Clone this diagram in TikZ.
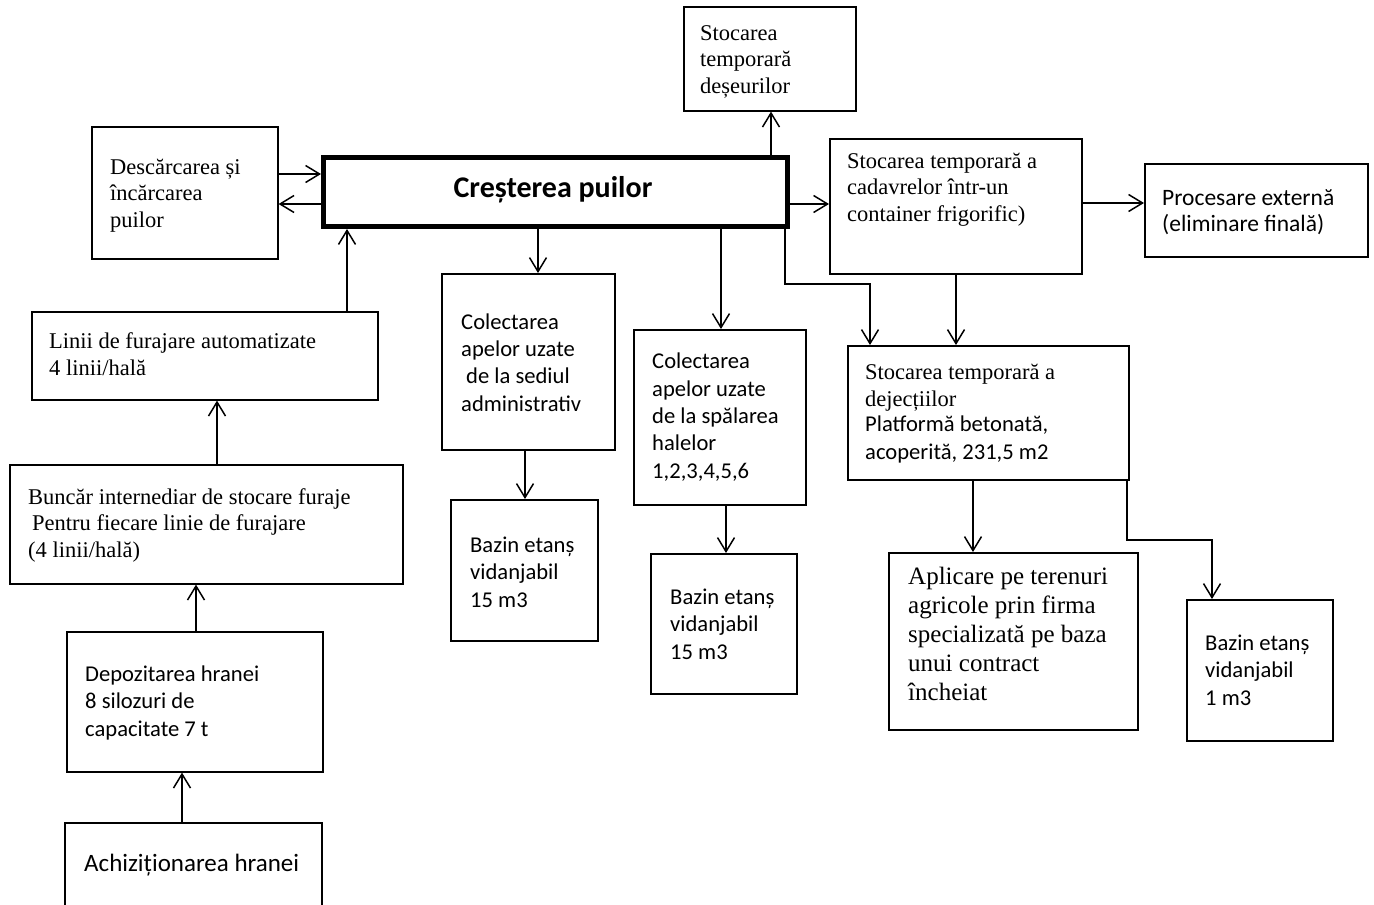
\documentclass[tikz,border=0pt]{standalone}
\usepackage{fontspec}
\setmainfont{Liberation Serif}
\newfontfamily\calib{Carlito}
\usetikzlibrary{arrows.meta}
\begin{document}
\begin{tikzpicture}[x=1pt,y=-1pt,
  box/.style={draw,line width=1.6pt,inner sep=0pt,anchor=north west},
  tm/.style={font=\fontsize{22.5}{26.5}\selectfont,align=left,anchor=base west,inner sep=0pt},
  tmbig/.style={font=\fontsize{25}{28.8}\selectfont,align=left,anchor=base west,inner sep=0pt},
  cb/.style={font=\calib\fontsize{22.6}{27.3}\selectfont,align=left,anchor=base west,inner sep=0pt},
  arr/.style={-{Straight Barb[length=14pt,width=17pt,line width=1.5pt]},line width=1.5pt}]
\clip (0,0) rectangle (1374,905);
\fill[white] (0,0) rectangle (1374,905);
% boxes
\node[box,minimum width=172pt,minimum height=104pt] (deseu) at (683,6) {};
\node[box,line width=5pt,minimum width=464pt,minimum height=69pt] (main) at (321,155) {};
\node[box,minimum width=186pt,minimum height=132pt] (desc) at (91,126) {};
\node[box,minimum width=346pt,minimum height=88pt] (linii) at (31,311) {};
\node[box,minimum width=393pt,minimum height=119pt] (bunc) at (9,464) {};
\node[box,minimum width=256pt,minimum height=140pt] (depoz) at (66,631) {};
\node[box,minimum width=257pt,minimum height=100pt] (achiz) at (64,822) {};
\node[box,minimum width=173pt,minimum height=176pt] (col1) at (441,273) {};
\node[box,minimum width=147pt,minimum height=141pt] (baz1) at (450,499) {};
\node[box,minimum width=172pt,minimum height=175pt] (col2) at (633,329) {};
\node[box,minimum width=146pt,minimum height=140pt] (baz2) at (650,553) {};
\node[box,minimum width=252pt,minimum height=135pt] (cad) at (829,138) {};
\node[box,minimum width=223pt,minimum height=93pt] (proc) at (1144,163) {};
\node[box,minimum width=281pt,minimum height=134pt] (dej) at (847,345) {};
\node[box,minimum width=249pt,minimum height=177pt] (apl) at (888,552) {};
\node[box,minimum width=146pt,minimum height=141pt] (baz3) at (1186,599) {};
% texts (anchored at the baseline of the last line)
\node[font=\calib\bfseries\fontsize{30}{34}\selectfont,anchor=base,inner sep=0pt] (title) at (553,197) {Creșterea puilor};
\node[tm] (deseu-t) at (700,93) {Stocarea\\temporară\\deșeurilor};
\node[tm] (desc-t) at (110,227) {Descărcarea și\\încărcarea\\puilor};
\node[tm] (linii-t) at (49,375) {Linii de furajare automatizate\\4 linii/hală};
\node[tm] (bunc-t) at (28,557) {Buncăr internediar de stocare furaje\\\hspace*{4pt}Pentru fiecare linie de furajare\\(4 linii/hală)};
\node[cb] (depoz-t) at (85,736) {Depozitarea hranei\\8 silozuri de\\capacitate 7 t};
\node[cb,font=\calib\fontsize{25}{30}\selectfont] (achiz-t) at (84,871) {Achiziționarea hranei};
\node[cb] (col1-t) at (461,411) {Colectarea\\apelor uzate\\\hspace*{5pt}de la sediul\\administrativ};
\node[cb] (baz1-t) at (470,607) {Bazin etanș\\vidanjabil\\15 m3};
\node[cb] (col2-t) at (652,478) {Colectarea\\apelor uzate\\de la spălarea\\halelor\\1,2,3,4,5,6};
\node[cb] (baz2-t) at (670,659) {Bazin etanș\\vidanjabil\\15 m3};
\node[tm] (cad-t) at (847,221) {Stocarea temporară a\\cadavrelor într-un\\container frigorific)};
\node[cb,font=\calib\fontsize{23.5}{26}\selectfont] (proc-t) at (1162,231) {Procesare externă\\(eliminare finală)};
\node[tm] (dej-t1) at (865,406) {Stocarea temporară a\\dejecțiilor};
\node[cb] (dej-t2) at (865,459) {Platformă betonată,\\acoperită, 231,5 m2};
\node[tmbig] (apl-t) at (908,700) {Aplicare pe terenuri\\agricole prin firma\\specializată pe baza\\unui contract\\încheiat};
\node[cb] (baz3-t) at (1205,705) {Bazin etanș\\vidanjabil\\1 m3};
% helper coordinates
\coordinate (h174) at (0,174);
\coordinate (h204) at (0,204);
\coordinate (h203) at (0,203);
\coordinate (h284) at (0,284);
\coordinate (h540) at (0,540);
\coordinate (v347) at (347,0);
\coordinate (v217) at (217,0);
\coordinate (v196) at (196,0);
\coordinate (v182) at (182,0);
\coordinate (v771) at (771,0);
\coordinate (v538) at (538,0);
\coordinate (v525) at (525,0);
\coordinate (v721) at (721,0);
\coordinate (v726) at (726,0);
\coordinate (v785) at (785,0);
\coordinate (v870) at (870,0);
\coordinate (v956) at (956,0);
\coordinate (v973) at (973,0);
\coordinate (v1127) at (1127,0);
\coordinate (v1212) at (1212,0);
% connectors
\draw[arr] (desc.east |- h174) -- (main.west |- h174);
\draw[arr] (main.west |- h204) -- (desc.east |- h204);
\draw[arr] (linii.north -| v347) -- (main.south -| v347);
\draw[arr] (bunc.north -| v217) -- (linii.south -| v217);
\draw[arr] (depoz.north -| v196) -- (bunc.south -| v196);
\draw[arr] (achiz.north -| v182) -- (depoz.south -| v182);
\draw[arr] (main.north -| v771) -- (deseu.south -| v771);
\draw[arr] (main.east |- h204) -- (cad.west |- h204);
\draw[arr] (cad.east |- h203) -- (proc.west |- h203);
\draw[arr] (main.south -| v538) -- (col1.north -| v538);
\draw[arr] (col1.south -| v525) -- (baz1.north -| v525);
\draw[arr] (main.south -| v721) -- (col2.north -| v721);
\draw[arr] (col2.south -| v726) -- (baz2.north -| v726);
\draw[arr] (main.south -| v785) -- (v785 |- h284) -- (v870 |- h284) -- (dej.north -| v870);
\draw[arr] (cad.south -| v956) -- (dej.north -| v956);
\draw[arr] (dej.south -| v973) -- (apl.north -| v973);
\draw[arr] (dej.south -| v1127) -- (v1127 |- h540) -- (v1212 |- h540) -- (baz3.north -| v1212);
\end{tikzpicture}
\end{document}
